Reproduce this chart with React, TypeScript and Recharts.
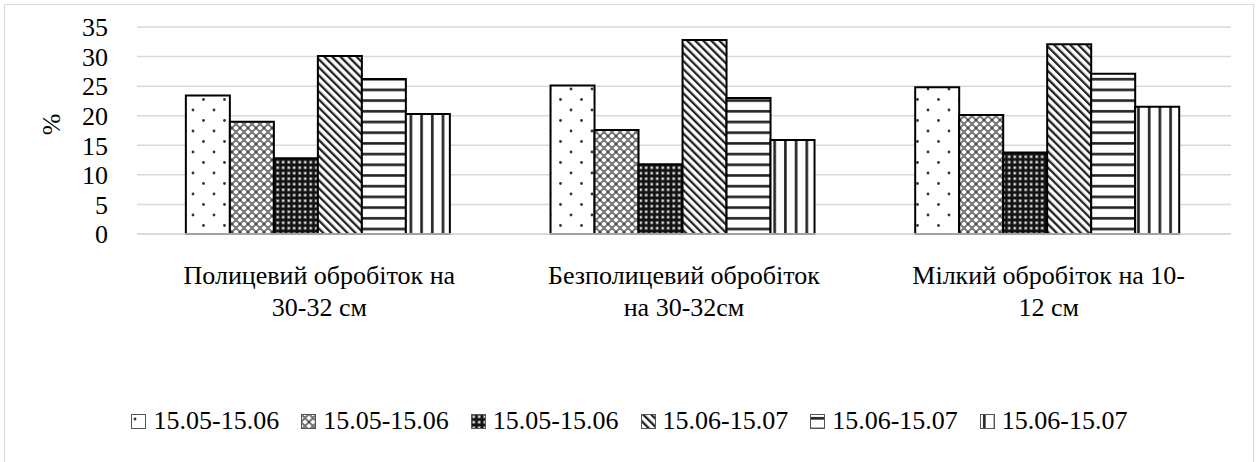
import React from "react";
import { BarChart, Bar, XAxis, YAxis, CartesianGrid, Legend } from "recharts";

// Categories (tillage variants), split into the two lines shown under the axis
const categoryLines: string[][] = [
  ["Полицевий обробіток на", "30-32 см"],
  ["Безполицевий обробіток", "на 30-32см"],
  ["Мілкий обробіток на 10-", "12 см"],
];

// Series names as shown in the legend
const seriesNames: string[] = [
  "15.05-15.06",
  "15.05-15.06",
  "15.05-15.06",
  "15.06-15.07",
  "15.06-15.07",
  "15.06-15.07",
];

// Values, %, one array per series (in category order)
const series1: number[] = [23.4, 25.1, 24.8];
const series2: number[] = [19.0, 17.6, 20.1];
const series3: number[] = [12.8, 11.8, 13.8];
const series4: number[] = [30.1, 32.8, 32.1];
const series5: number[] = [26.2, 23.0, 27.1];
const series6: number[] = [20.3, 15.9, 21.5];

const yTicks: number[] = [0, 5, 10, 15, 20, 25, 30, 35];

const allSeries = [series1, series2, series3, series4, series5, series6];
const keys = ["s1", "s2", "s3", "s4", "s5", "s6"];
const patternIds = ["patDots", "patDiamond", "patDark", "patDiag", "patHoriz", "patVert"];

const data = categoryLines.map((lines, i) => {
  const row: Record<string, number | string> = { name: lines.join(" ") };
  allSeries.forEach((s, k) => {
    row[keys[k]] = s[i];
  });
  return row;
});

const FONT = "'Liberation Serif', 'Tinos', 'Times New Roman', serif";
const FS = 26;

const Patterns = () => (
  <defs>
    <pattern id="patDots" width="21" height="21" patternUnits="userSpaceOnUse">
      <rect width="21" height="21" fill="#fff" />
      <circle cx="4" cy="5" r="1.4" fill="#333" />
      <circle cx="14.5" cy="15.5" r="1.4" fill="#333" />
    </pattern>
    <pattern id="patDiamond" width="8" height="8" patternUnits="userSpaceOnUse">
      <rect width="8" height="8" fill="#fff" />
      <path d="M0 0 L8 8 M8 0 L0 8 M-4 4 L4 12 M4 -4 L12 4 M-4 4 L4 -4 M4 12 L12 4" stroke="#7a7a7a" strokeWidth="2" />
      <circle cx="0" cy="0" r="1" fill="#333" />
      <circle cx="8" cy="0" r="1" fill="#333" />
      <circle cx="0" cy="8" r="1" fill="#333" />
      <circle cx="8" cy="8" r="1" fill="#333" />
    </pattern>
    <pattern id="patDark" width="5.5" height="5.5" patternUnits="userSpaceOnUse">
      <rect width="5.5" height="5.5" fill="#111" />
      <rect x="1.2" y="1.2" width="3" height="3" fill="#888" />
      <rect x="1.9" y="1.9" width="1.6" height="1.6" fill="#fff" />
    </pattern>
    <pattern id="patDiag" width="5.7" height="5.7" patternUnits="userSpaceOnUse" patternTransform="rotate(-45)">
      <rect width="5.7" height="5.7" fill="#fff" />
      <rect width="2.3" height="5.7" fill="#222" />
    </pattern>
    <pattern id="patHoriz" width="10.7" height="10.7" patternUnits="userSpaceOnUse">
      <rect width="10.7" height="10.7" fill="#fff" />
      <rect y="3" width="10.7" height="2.6" fill="#222" />
    </pattern>
    <pattern id="patVert" width="10.7" height="10.7" patternUnits="userSpaceOnUse">
      <rect width="10.7" height="10.7" fill="#fff" />
      <rect x="3" width="2.6" height="10.7" fill="#222" />
    </pattern>
  </defs>
);

const CategoryTick = (props: any) => {
  const { x, y, index } = props;
  const lines = categoryLines[index] || [];
  return (
    <g>
      {lines.map((line, i) => (
        <text
          key={i}
          x={x}
          y={y + 50 + i * 32}
          textAnchor="middle"
          style={{ fontFamily: FONT, fontSize: FS }}
          fill="#000"
        >
          {line}
        </text>
      ))}
    </g>
  );
};

const ValueTick = (props: any) => {
  const { x, y, payload } = props;
  return (
    <text x={x} y={y} dy="0.355em" textAnchor="end" style={{ fontFamily: FONT, fontSize: FS }} fill="#000">
      {payload.value}
    </text>
  );
};

const LegendContent = () => (
  <div
    style={{
      width: 1259,
      height: 40,
      display: "flex",
      justifyContent: "center",
      alignItems: "center",
      fontFamily: FONT,
      fontSize: FS,
      color: "#000",
      whiteSpace: "nowrap",
    }}
  >
    {seriesNames.map((name, i) => (
      <span
        key={i}
        style={{ display: "inline-flex", alignItems: "center", marginRight: i < seriesNames.length - 1 ? 22 : 0 }}
      >
        <svg width="15" height="15" style={{ marginRight: 7 }}>
          <rect x="0.5" y="0.5" width="14" height="14" fill={`url(#${patternIds[i]})`} stroke="#555" strokeWidth="1" />
        </svg>
        {name}
      </span>
    ))}
  </div>
);

export default function App() {
  return (
    <div
      style={{
        position: "absolute",
        left: 0,
        top: 0,
        width: 1259,
        height: 462,
        background: "#fff",
        overflow: "hidden",
      }}
    >
      <div
        style={{
          position: "absolute",
          left: 4,
          top: 4,
          width: 1248,
          height: 470,
          border: "1px solid #d9d9d9",
        }}
      />
      <BarChart
        width={1259}
        height={462}
        data={data}
        margin={{ top: 27, right: 28, left: 0, bottom: 88 }}
        barCategoryGap="13.4%"
        barGap={0}
      >
        <Patterns />
        <CartesianGrid vertical={false} stroke="#d9d9d9" strokeWidth={1.5} />
        <XAxis
          dataKey="name"
          tick={<CategoryTick />}
          tickLine={false}
          axisLine={{ stroke: "#d9d9d9", strokeWidth: 1.5 }}
          tickSize={0}
          tickMargin={0}
          height={100}
          interval={0}
        />
        <YAxis
          width={137}
          domain={[0, 35]}
          ticks={yTicks}
          interval={0}
          tickLine={false}
          axisLine={false}
          tickSize={0}
          tickMargin={29}
          tick={<ValueTick />}
          label={{
            content: (p: any) => {
              const vb = p.viewBox || { x: 0, y: 27, width: 137, height: 207 };
              const cx = 51;
              const cy = vb.y + vb.height / 2 - 6;
              return (
                <text
                  x={cx}
                  y={cy}
                  transform={`rotate(-90 ${cx} ${cy})`}
                  textAnchor="middle"
                  dominantBaseline="central"
                  style={{ fontFamily: FONT, fontSize: FS }}
                  fill="#000"
                >
                  %
                </text>
              );
            },
          }}
        />
        <Legend
          verticalAlign="bottom"
          content={<LegendContent />}
          wrapperStyle={{ height: 40, left: 0, top: 401, width: 1259 }}
        />
        {keys.map((k, i) => (
          <Bar
            key={k}
            dataKey={k}
            name={seriesNames[i]}
            fill={`url(#${patternIds[i]})`}
            stroke="#000"
            strokeWidth={2}
            isAnimationActive={false}
          />
        ))}
      </BarChart>
    </div>
  );
}
